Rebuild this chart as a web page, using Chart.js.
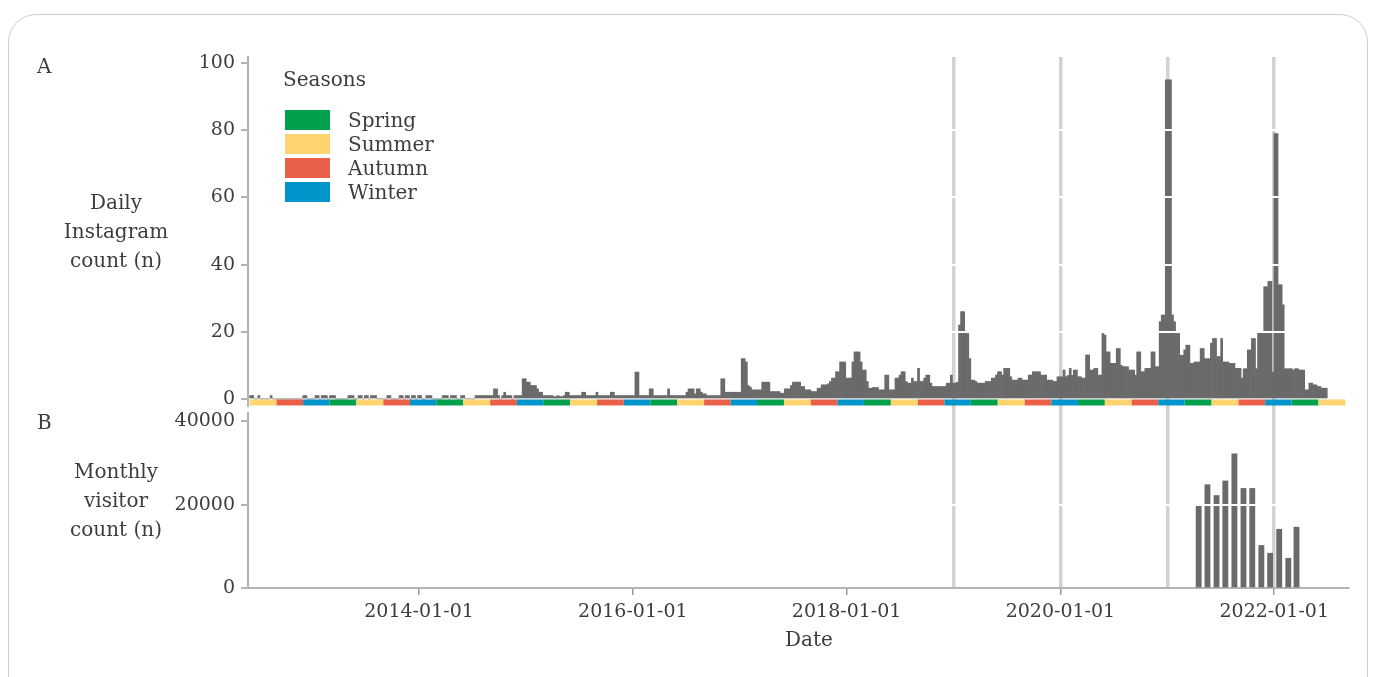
<!DOCTYPE html>
<html>
<head>
<meta charset="utf-8">
<script src="https://cdn.jsdelivr.net/npm/chart.js@4.4.1/dist/chart.umd.min.js"></script>
<style>
  html, body { margin: 0; padding: 0; background: #fff; }
  #wrap { position: relative; width: 1376px; height: 677px; overflow: hidden;
          font-family: "DejaVu Serif", serif; color: #3d3d3d; }
  #frame { position: absolute; left: 8px; top: 14px; width: 1358px; height: 740px;
           border: 1.5px solid #cdcdcd; border-radius: 28px; }
  #chart { position: absolute; left: 0; top: 0; }
  .txt { position: absolute; font-size: 20px; line-height: 29px; white-space: nowrap; }
  .ytitle { text-align: center; width: 130px; left: 51px; }
  .key { position: absolute; left: 285px; width: 45px; height: 20px; }
  .keylbl { position: absolute; left: 348px; font-size: 20px; line-height: 24px; }
</style>
</head>
<body>
<div id="wrap">
  <div id="frame"></div>
  <canvas id="chart" width="1376" height="677"></canvas>

  <div class="txt" style="left:37px;top:52px;">A</div>
  <div class="txt" style="left:37px;top:408px;">B</div>
  <div class="txt ytitle" style="top:188px;">Daily<br>Instagram<br>count (n)</div>
  <div class="txt ytitle" style="top:457px;">Monthly<br>visitor<br>count (n)</div>
  <div class="txt" style="left:785px;top:625px;">Date</div>

  <div class="txt" style="left:283px;top:65px;">Seasons</div>
  <div id="legend"></div>
</div>

<script>
// weekly Instagram counts, weeks starting 2012-06-01 (grouped by calendar year)
const weekStart = '2012-06-01';
const counts2012 = [1,1,0,0,1,0,0,0,0,0,1,0,0,0,0,0,0,0,0,0,0,0,0,0,0,0,1,1,0,0,0];
const counts2013 = [0,1,1,0,1,1,1,0,1,1,1,0,0,0,0,0,0,1,1,1,0,0,1,1,0,1,1,0,1,1,1,0,0,0,0,0,1,1,0,0,0,0,1,1,0,1,1,0,1,1,0,1];
const counts2014 = [1,0,0,1,1,1,0,0,0,0,0,1,1,1,0,1,1,1,0,0,1,1,0,0,0,0,0,1,1,1,1,1,1,1,1,1,3,3,1,0,1,2,1,1,1,0,1,1,1,1,6,6];
const counts2015 = [5,5,4,4,4,3,2,2,1,1,1,1,1,0.7,0.7,1,0.7,0.7,1,2,2,1,1,1,1,1,1,2,2,1,1,1,1,1,2,1,1,1,1,1,1,2,2,1,1,1,1,1,1,1,1,1];
const counts2016 = [1,8,8,1,1,1,1,1,3,3,1,1,1,1,1,1,1,3,1,1,1,1,1,1,1,1,2,3,3,3,1.5,3,3,2,1.5,1.5,1,1,1,1,1,1,1,6,6,2,2,2,2,2,2,2];
const counts2017 = [2,12,12,11,4,3.5,2.7,2.7,2.7,2.7,2.7,5,5,5,5,2.2,2.2,2.2,2.2,2.2,1.7,1.7,3,3,3,4,5,5,5,5,3.7,3.7,2.7,2.7,2.7,2.2,2.2,2.2,3.2,3.2,4.2,4.2,4.2,4.5,5.2,6.2,6.2,8.1,8.1,11,11,11];
const counts2018 = [6.2,6.2,6.2,11,14,14,14,11,8.6,8.6,5.2,3.2,3.2,3.4,3.4,3.4,2.7,2.7,2.7,7.1,7.1,2.7,2.7,2.7,6.2,6.2,7.1,8.1,8.1,5.2,4.7,4.7,6.2,5.2,5.2,9.1,5.2,5.2,6.2,7.1,7.1,4.7,3.7,3.7,3.7,3.7,3.7,3.7,3.7,4.7,4.7,7.1];
const counts2019 = [4.7,4.7,5,22,26,26,19.5,19.5,12,5.6,5.6,5.2,4.7,4.7,4.7,4.7,5.2,5.2,5.2,6.2,6.2,7.1,8.1,8.1,7.1,9.1,9.1,9.1,6.6,5.6,5.6,5.6,6.2,6.2,5.6,5.6,5.6,7.1,7.1,8.1,8.1,8.1,8.1,7.1,7.1,7.1,5.6,5.6,5.6,5.2,5.2,6.6,6.6];
const counts2020 = [6.6,8.6,6.6,7,9.1,7,8.6,8.6,6.6,6.6,6.2,6.2,13.1,13.1,8.6,8.6,9.1,9.1,7.1,7.1,19.5,19,14,14,10.6,10.6,10.6,15,15,10,9.6,9.6,9.6,8.6,8.6,8.6,7.1,14,14,8.1,8.1,9.1,9.1,9.1,14,14,9.6,9.6,23,25,25,95];
const counts2021 = [95,95,25,23,19.5,19.5,13,13,14.6,16,16,10.6,10.6,11,11,11,15,15,12,12,12,16.6,18,18,12.6,12.6,18,11,11,11,10.6,10.6,10.6,9.1,9.1,9.1,6.2,9,9,14.6,14.6,18,18,9,19.6,19.6,19.6,33.4,33.4,35,35,8];
const counts2022 = [79,79,34,34,28,9,9,9,9,8.6,9,9,8.6,8.6,8.6,2.7,2.7,4.7,4.7,4.2,4.2,3.7,3.7,3.2,3.2,3.2];

// monthly visitor counts
const visitorMonths = ['2021-04','2021-05','2021-06','2021-07','2021-08','2021-09',
                       '2021-10','2021-11','2021-12','2022-01','2022-02','2022-03'];
const visitorCounts = [19800,24800,22200,25700,32200,23900,23900,10200,8350,14100,7150,14600];

// axes / markers
const xTickYears  = [2013,2014,2015,2016,2017,2018,2019,2020,2021,2022];
const markerYears = [2019,2020,2021,2022];
const topTicks = [0,20,40,60,80,100];
const botTicks = [0,20000,40000];
const seasonNames  = ['Spring','Summer','Autumn','Winter'];
const seasonColors = ['#00a04c','#fdd470','#ea5f48','#0096cb'];
const seasonStartMonth = { 3: 0, 6: 1, 9: 2, 12: 3 };

const FONT = 'DejaVu Serif';
const INK = '#3d3d3d';
const AXIS = '#b4b4b4';
const BAR = '#6a6a6a';

function decYear(ms) {
  const y = new Date(ms).getUTCFullYear();
  const a = Date.UTC(y, 0, 1), b = Date.UTC(y + 1, 0, 1);
  return y + (ms - a) / (b - a);
}

const allCounts = [].concat(counts2012, counts2013, counts2014, counts2015, counts2016,
  counts2017, counts2018, counts2019, counts2020, counts2021, counts2022);
const t0 = Date.parse(weekStart + 'T00:00:00Z');
const weeklyPoints = allCounts.map((v, i) => ({ x: decYear(t0 + (i * 7 + 3.5) * 864e5), y: v }));

const visitorPoints = visitorMonths.map((m, i) => {
  const [y, mo] = m.split('-').map(Number);
  return { x: decYear(Date.UTC(y, mo - 1, 18)), y: visitorCounts[i] };
});

// season strip under the top panel
const stripPoints = [], stripSeason = [];
for (let y = 2012, m = 6; y < 2022 || (y === 2022 && m <= 9); ) {
  stripPoints.push({ x: decYear(Date.UTC(y, m - 1, 1)), y: -1.05 });
  stripSeason.push(seasonStartMonth[m]);
  m += 3; if (m > 12) { m -= 12; y++; }
}

// html legend
const legend = document.getElementById('legend');
seasonNames.forEach((name, i) => {
  const top = 110 + i * 24;
  legend.insertAdjacentHTML('beforeend',
    `<div class="key" style="top:${top}px;background:${seasonColors[i]}"></div>
     <div class="keylbl" style="top:${top - 2}px">${name}</div>`);
});

Chart.defaults.font.family = FONT;
Chart.defaults.color = INK;

const tickFont = { family: FONT, size: 19 };
const clear = 'rgba(0,0,0,0)';

new Chart(document.getElementById('chart'), {
  type: 'bar',
  data: {
    datasets: [
      { type: 'line', data: stripPoints, xAxisID: 'x', yAxisID: 'yTop',
        borderWidth: 6, pointRadius: 0, borderCapStyle: 'butt', tension: 0,
        segment: { borderColor: c => seasonColors[stripSeason[c.p0DataIndex]] } },
      { data: weeklyPoints, xAxisID: 'x', yAxisID: 'yTop', backgroundColor: BAR,
        barThickness: 2.06, grouped: false, borderWidth: 0 },
      { data: visitorPoints, xAxisID: 'x', yAxisID: 'yBot', backgroundColor: BAR,
        barThickness: 5.2, grouped: false, borderWidth: 0 }
    ]
  },
  options: {
    responsive: false,
    animation: false,
    layout: { padding: { top: 57, right: 28, bottom: 0, left: 0 } },
    plugins: { legend: { display: false }, tooltip: { enabled: false } },
    scales: {
      x: {
        type: 'linear', position: 'bottom', min: 2012.40, max: 2022.69, offset: false,
        afterBuildTicks: s => { s.ticks = xTickYears.map(v => ({ value: v })); },
        afterFit: s => { s.height = 89; },
        ticks: { autoSkip: false, maxRotation: 0, padding: 6, font: tickFont, color: INK,
                 callback: v => (v % 2 === 0 ? v + '-01-01' : '') },
        grid: { z: 0, offset: false, lineWidth: 3.5,
                color: c => (c.tick && markerYears.includes(c.tick.value) ? '#d2d2d2' : clear),
                tickColor: c => (c.tick && c.tick.value % 2 === 0 ? '#9a9a9a' : clear),
                tickLength: 7, tickWidth: 1.5 },
        border: { color: AXIS, width: 2 }
      },
      // stacked left axes: listed bottom first, top panel last
      yBot: {
        type: 'linear', position: 'left', stack: 'v', stackWeight: 175, min: 0, max: 42000,
        afterBuildTicks: s => { s.ticks = botTicks.map(v => ({ value: v })); },
        afterFit: s => { s.width = 248; },
        ticks: { padding: 6, font: tickFont, color: INK, callback: v => String(v) },
        grid: { z: 1, lineWidth: 2, color: c => (c.tick && c.tick.value === 20000 ? '#fff' : clear),
                tickColor: '#9a9a9a', tickLength: 7, tickWidth: 1.5 },
        border: { color: AXIS, width: 2, z: 2 }
      },
      yGap: {
        type: 'linear', position: 'left', stack: 'v', stackWeight: 7,
        afterFit: s => { s.width = 248; },
        ticks: { display: false }, grid: { display: false }, border: { display: false }
      },
      yTop: {
        type: 'linear', position: 'left', stack: 'v', stackWeight: 349, min: -2.1, max: 101.8,
        afterBuildTicks: s => { s.ticks = topTicks.map(v => ({ value: v })); },
        afterFit: s => { s.width = 248; },
        ticks: { padding: 6, font: tickFont, color: INK },
        grid: { z: 1, lineWidth: 2,
                color: c => (c.tick && c.tick.value > 0 && c.tick.value < 100 ? '#fff' : clear),
                tickColor: '#9a9a9a', tickLength: 7, tickWidth: 1.5 },
        border: { color: AXIS, width: 2, z: 2 }
      }
    }
  }
});
</script>
</body>
</html>
